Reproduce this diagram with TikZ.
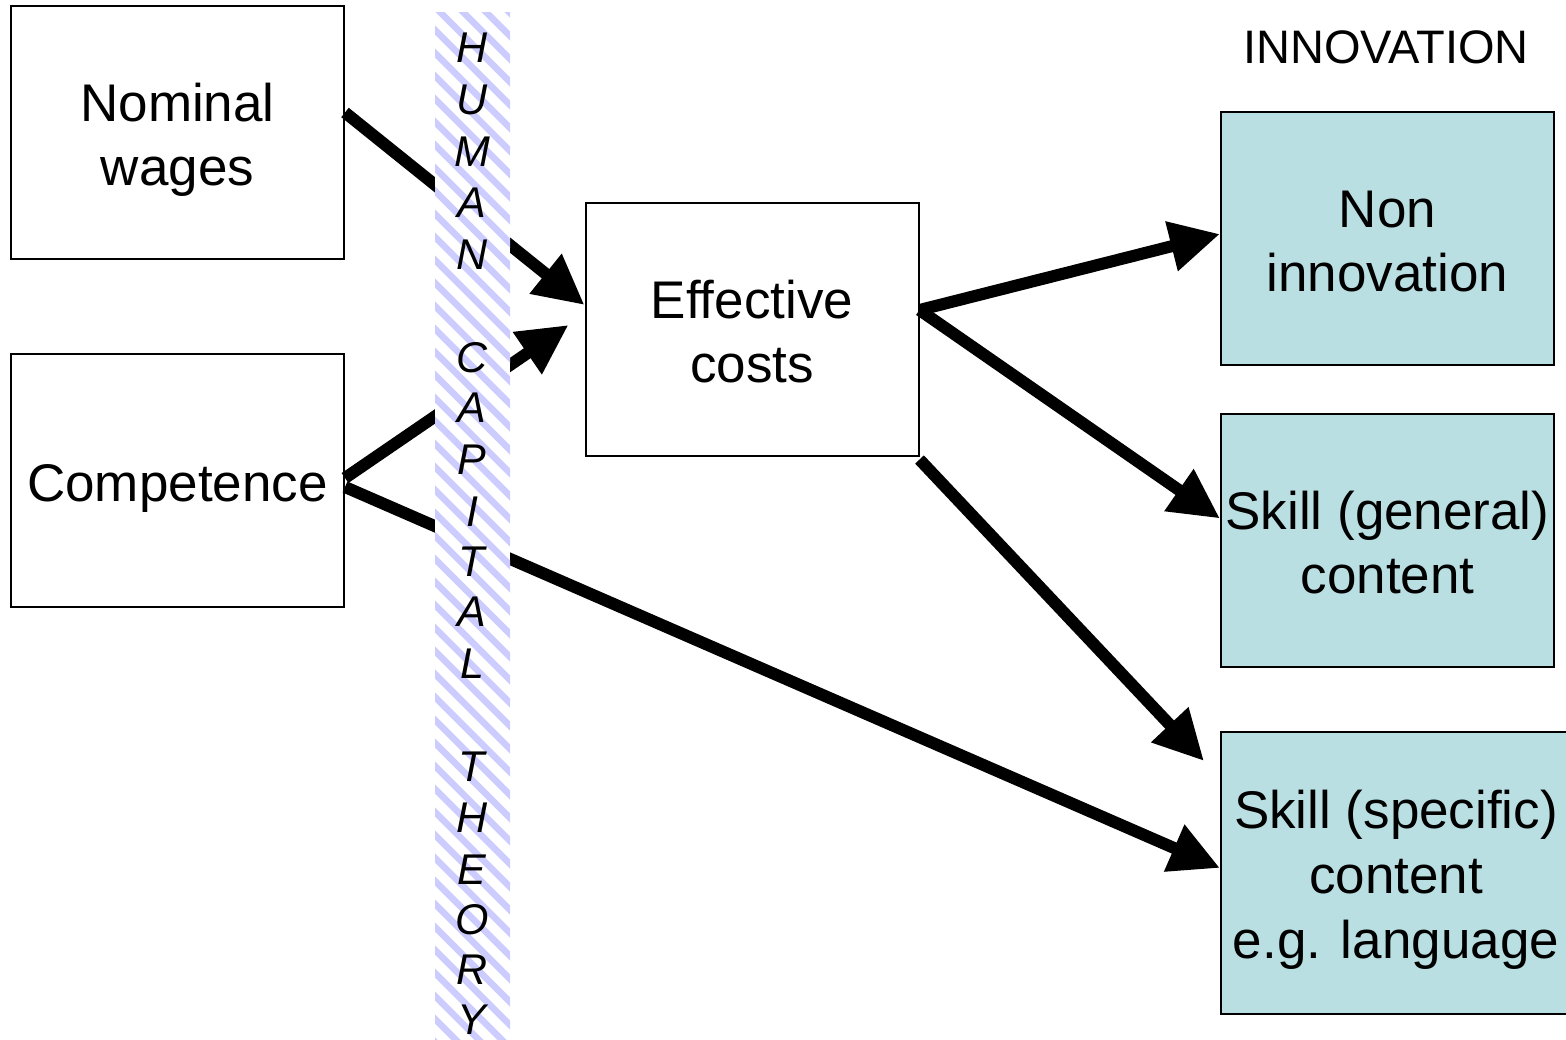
\documentclass[tikz,border=0pt]{standalone}
\usepackage{fontspec}
\setmainfont{Liberation Sans}
\usetikzlibrary{arrows.meta}
\definecolor{boxcyan}{RGB}{185,223,226}
\definecolor{stripe}{RGB}{204,204,255}
\tikzset{
  box/.style={draw=black, line width=1pt, minimum width=166.5pt, minimum height=126.5pt, inner sep=0pt},
  innov/.style={box, fill=boxcyan},
  boxtext/.style={align=center, inner sep=0pt, font=\fontsize{26.5}{32}\selectfont},
  bigarrow/.style={line width=6pt, -{Triangle[length=25pt,width=24pt]}},
  bandletter/.style={font=\fontsize{21.5}{24}\selectfont\itshape, inner sep=0pt}
}
\begin{document}
\begin{tikzpicture}[x=0.5pt,y=-0.5pt]
\useasboundingbox (0,0) rectangle (1566,1039);
% boxes
\node[box] (nw) at (177.5,132.5) {};
\node[boxtext] (nwt) at ([yshift=-3.5pt]nw.center) {Nominal\\wages};
\node[box] (comp) at (177.5,480) {};
\node[boxtext] (compt) at ([yshift=-4pt]comp.center) {Competence};
\node[box] (eff) at (752,329) {};
\node[boxtext] (efft) at ([yshift=-1.5pt]eff.center) {Effective\\costs};
\node[innov] (non) at (1387.5,238) {};
\node[boxtext] (nont) at ([yshift=-2pt]non.center) {Non\\innovation};
\node[innov] (gen) at (1387.5,540.5) {};
\node[boxtext] (gent) at ([yshift=-1.2pt]gen.center) {Skill (general)\\content};
\node[innov, minimum width=175pt, minimum height=141pt] (spec) at (1396,873) {};
\node[boxtext, font=\fontsize{26.5}{32.5}\selectfont] (spect) at ([yshift=-3.5pt]spec.center) {Skill (specific)\\content\\e.g. language};
\node[font=\fontsize{23.5}{26}\selectfont] (innovtitle) at (1386,47) {INNOVATION};
% arrows
\draw[bigarrow] ([yshift=10pt]nw.east) -- ([yshift=12pt]eff.west);
\draw[bigarrow] ([yshift=1pt]comp.east) -- ([xshift=-8pt,yshift=2pt]eff.west);
\draw[bigarrow] ([yshift=-3.5pt]comp.east) -- ([yshift=2.5pt]spec.west);
\draw[bigarrow] ([yshift=9.5pt]eff.east) -- ([yshift=2pt]non.west);
\draw[bigarrow] ([yshift=9.5pt]eff.east) -- ([yshift=11pt]gen.west);
\draw[bigarrow] ([yshift=-1.5pt]eff.south east) -- ([xshift=-8pt,yshift=-15pt]spec.north west);
% band
\coordinate (bandtl) at (435,12);
\coordinate (bandbr) at (510,1039);
\fill[white] (bandtl) rectangle (bandbr);
\begin{scope}
\clip (bandtl) rectangle (bandbr);
\foreach \s in {-120,-97,...,1060}{
  \draw[stripe, line width=3.3pt] (400,\s) -- (560,\s+160);
}
\end{scope}
\foreach \ch/\yy [count=\i] in {H/48,U/100,M/152,A/203,N/255,C/358,A/408,P/460,I/512,T/562,A/612,L/664,T/767,H/818,E/870,O/920,R/970,Y/1020}{
  \node[bandletter] (L\i) at (472,\yy) {\ch};
}
\end{tikzpicture}
\end{document}
